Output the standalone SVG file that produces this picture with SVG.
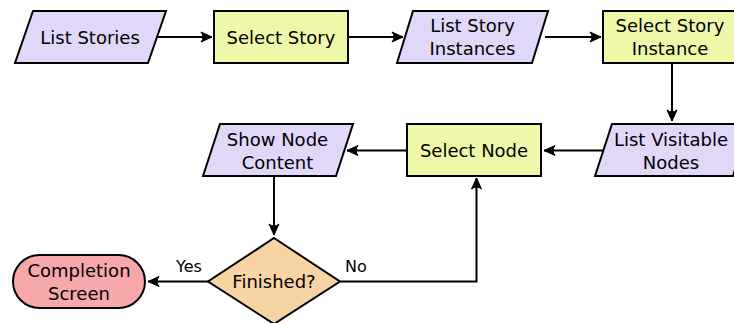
<svg xmlns="http://www.w3.org/2000/svg" width="734" height="323" viewBox="0 0 734 323">
  <style>
    .shape { stroke: #000; stroke-width: 2; stroke-linejoin: miter; }
    .io { fill: #e0d7f9; }
    .proc { fill: #eff7a8; }
    .dec { fill: #f8d3a4; }
    .term { fill: #f6a8aa; }
    .lbl { font-family: "DejaVu Sans", Verdana, sans-serif; font-size: 18px; fill: #000; text-anchor: middle; }
    .edge-lbl { font-family: "DejaVu Sans", Verdana, sans-serif; font-size: 16px; fill: #000; }
    .conn { fill: none; stroke: #000; stroke-width: 2; marker-end: url(#arrow); }
  </style>
  <defs>
    <marker id="arrow" markerUnits="userSpaceOnUse" viewBox="-12 -6 13 12" refX="0" refY="0" markerWidth="13" markerHeight="12" orient="auto">
      <path d="M 0 0 L -11 -5 Q -7 0 -11 5 Z" fill="#000" stroke="#000" stroke-width="1" stroke-linejoin="miter"/>
    </marker>
  </defs>

  <rect width="734" height="323" fill="#fff"/>

  <g id="connectors">
    <path class="conn" d="M 158 37 L 212 37"/>
    <path class="conn" d="M 349 37 L 403 37"/>
    <path class="conn" d="M 545 37 L 601 37"/>
    <path class="conn" d="M 672 64 L 672 121"/>
    <path class="conn" d="M 603 150.5 L 544 150.5"/>
    <path class="conn" d="M 407 150.5 L 347 150.5"/>
    <path class="conn" d="M 274 176 L 274 235"/>
    <path class="conn" d="M 208 281.5 L 148 281.5"/>
    <path class="conn" d="M 340 281.5 L 476.5 281.5 L 476.5 178"/>
    <text class="edge-lbl" x="176" y="272">Yes</text>
    <text class="edge-lbl" x="345" y="272">No</text>
  </g>

  <g id="list-stories">
    <polygon class="shape io" points="33,11 166,11 148,63 15,63"/>
    <text class="lbl" x="90" y="43.5">List Stories</text>
  </g>

  <g id="select-story">
    <rect class="shape proc" x="214" y="11" width="134" height="52"/>
    <text class="lbl" x="281" y="43.5">Select Story</text>
  </g>

  <g id="list-story-instances">
    <polygon class="shape io" points="413,11 548,11 532,63 397,63"/>
    <text class="lbl" x="472.5" y="32">List Story</text>
    <text class="lbl" x="472.5" y="55">Instances</text>
  </g>

  <g id="select-story-instance">
    <rect class="shape proc" x="603" y="11" width="134" height="52"/>
    <text class="lbl" x="670" y="32">Select Story</text>
    <text class="lbl" x="670" y="55">Instance</text>
  </g>

  <g id="list-visitable-nodes">
    <polygon class="shape io" points="612,124 750,124 733,176 595,176"/>
    <text class="lbl" x="671" y="145.5">List Visitable</text>
    <text class="lbl" x="671" y="168.5">Nodes</text>
  </g>

  <g id="select-node">
    <rect class="shape proc" x="407" y="124" width="134" height="52"/>
    <text class="lbl" x="474" y="157">Select Node</text>
  </g>

  <g id="show-node-content">
    <polygon class="shape io" points="220,124 353,124 336,176 203,176"/>
    <text class="lbl" x="277.5" y="145.5">Show Node</text>
    <text class="lbl" x="277.5" y="168.5">Content</text>
  </g>

  <g id="finished">
    <polygon class="shape dec" points="274,238 340,281.5 274,324 208,281.5"/>
    <text class="lbl" x="274" y="288">Finished?</text>
  </g>

  <g id="completion-screen">
    <rect class="shape term" x="13" y="255" width="132" height="53" rx="26.5" ry="26.5"/>
    <text class="lbl" x="79" y="277">Completion</text>
    <text class="lbl" x="79" y="300">Screen</text>
  </g>
</svg>
